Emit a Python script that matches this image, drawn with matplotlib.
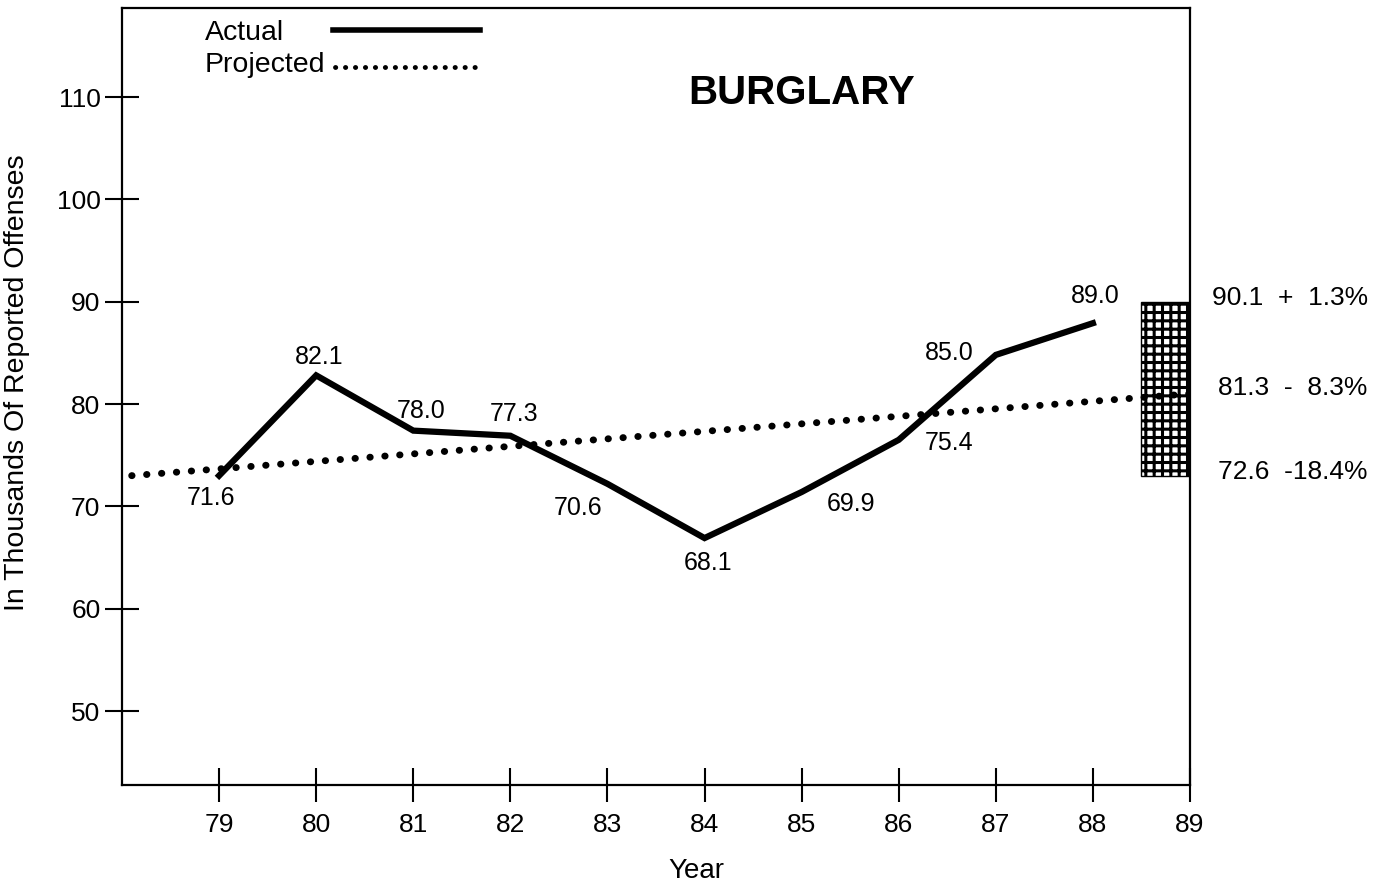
import matplotlib
matplotlib.use("Agg")
import matplotlib.pyplot as plt
from matplotlib.lines import Line2D

plt.rcParams['font.family'] = ['Liberation Sans', 'DejaVu Sans']
plt.rcParams['hatch.linewidth'] = 2.2

# data
years = [79, 80, 81, 82, 83, 84, 85, 86, 87, 88]
actual = [73.0, 82.8, 77.4, 76.9, 72.2, 66.9, 71.4, 76.5, 84.8, 87.9]
point_labels = ["71.6", "82.1", "78.0", "77.3", "70.6", "68.1", "69.9", "75.4", "85.0", "89.0"]

proj_years = [78.1, 89.0]
proj_values = [73.0, 81.0]

range_low = 73.0
range_high = 90.0
range_labels = ["90.1  +  1.3%", "81.3  -  8.3%", "72.6  -18.4%"]

xticks = list(range(79, 90))
yticks = [50, 60, 70, 80, 90, 100, 110]

# label offsets in pixels from each point
label_offsets = [(-8, -22), (3, 18), (8, 20), (4, 22), (-29, -24),
                 (4, -25), (49, -12), (50, -3), (-47, 2), (2, 27)]


fig = plt.figure(figsize=(13.86, 8.84), dpi=100)
ax = fig.add_axes([122 / 1386, 1 - 785 / 884, 1068 / 1386, 777 / 884])

ax.plot(years, actual, color='black', linewidth=4.5, solid_joinstyle='miter')
ax.plot(proj_years, proj_values, color='black', linewidth=5,
        linestyle=(0, (0.05, 2.1)), dash_capstyle='round')

ax.bar(88.75, range_high - range_low, bottom=range_low, width=0.5,
       facecolor='white', edgecolor='black', hatch='++', linewidth=1)

for x, y, lab, off in zip(years, actual, point_labels, label_offsets):
    ax.annotate(lab, (x, y), xytext=off, textcoords='offset pixels',
                ha='center', va='center', fontsize=18)

for lab, y in zip(range_labels, [90.4, 81.6, 73.4]):
    ax.text(90.83, y, lab, ha='right', va='center', fontsize=19, clip_on=False)

ax.text(85.0, 110.4, 'BURGLARY', ha='center', va='center',
        fontsize=29, fontweight='bold')

# legend, drawn by hand
ax.text(0.0777, 0.968, 'Actual', transform=ax.transAxes, ha='left', va='center', fontsize=20.5)
ax.text(0.0777, 0.926, 'Projected', transform=ax.transAxes, ha='left', va='center', fontsize=20.5)
ax.add_line(Line2D([0.1976, 0.3352], [0.9717, 0.9717], transform=ax.transAxes,
                   color='black', linewidth=4))
ax.add_line(Line2D([0.1990, 0.3333], [0.924, 0.924], transform=ax.transAxes,
                   color='black', linewidth=3.5, linestyle=(0, (0.05, 2.0)),
                   dash_capstyle='round'))

ax.set_xlim(78, 89)
ax.set_ylim(42.77, 118.7)
ax.set_xticks(xticks)
ax.set_yticks(yticks)
ax.tick_params(direction='inout', length=25, width=1.5, labelsize=19)
ax.tick_params(axis='x', pad=8)
ax.tick_params(axis='y', pad=3)
for s in ax.spines.values():
    s.set_linewidth(1.6)

ax.set_xlabel('Year', fontsize=20)
ax.set_ylabel('In Thousands Of Reported Offenses', fontsize=20.5)
ax.xaxis.set_label_coords(0.538, -0.094)
ax.yaxis.set_label_coords(-0.086, 0.518)

fig.savefig('out.png', dpi=100)
